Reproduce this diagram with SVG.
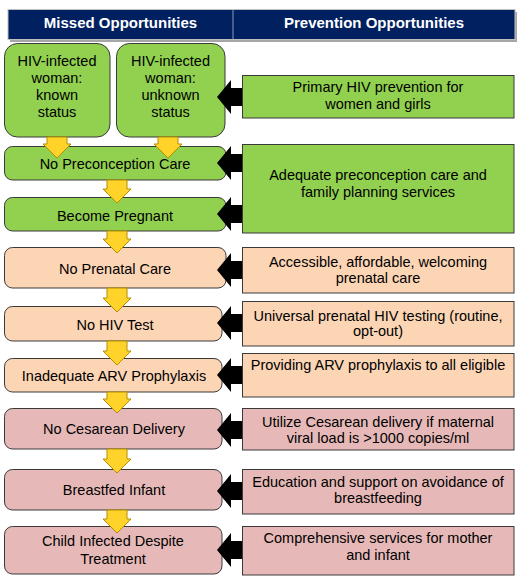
<svg xmlns="http://www.w3.org/2000/svg" width="520" height="585" viewBox="0 0 520 585">
<style>
text{font-family:"Liberation Sans",Arial,sans-serif;font-size:14.5px;fill:#000;text-anchor:middle}
.hd{font-weight:bold;font-size:15px;fill:#fff}
.g{fill:#92D050;stroke:#3a3a3a;stroke-width:1}
.o{fill:#FCD5B5;stroke:#3a3a3a;stroke-width:1}
.p{fill:#E6B9B8;stroke:#3a3a3a;stroke-width:1}
.ya{fill:#FFD32A;stroke:#B38F00;stroke-width:1}
.ba{fill:#000}
</style>
<rect width="520" height="585" fill="#fff"/>
<g id="header">
<rect x="10" y="12" width="507" height="30" fill="#A6A6A6"/>
<rect x="8" y="9.5" width="507" height="30" fill="#002060" stroke="#BFBFBF" stroke-width="1"/>
<line x1="233" y1="10" x2="233" y2="39" stroke="#8C9AB8" stroke-width="1"/>
<text class="hd" x="120.5" y="27.5">Missed Opportunities</text>
<text class="hd" x="374" y="27.5">Prevention Opportunities</text>
</g>
<g id="n-known"><rect class="g" x="4.5" y="43.5" width="105.5" height="93.5" rx="13"/>
<text x="57" y="66">HIV-infected</text><text x="57" y="83">woman:</text><text x="57" y="100">known</text><text x="57" y="117">status</text></g>
<g id="n-unknown"><rect class="g" x="116.5" y="43.5" width="108.5" height="93.5" rx="13"/>
<text x="170.5" y="66">HIV-infected</text><text x="170.5" y="83">woman:</text><text x="170.5" y="100">unknown</text><text x="170.5" y="117">status</text></g>
<g id="n-precon"><rect class="g" x="4.5" y="146.5" width="221.5" height="33.5" rx="8"/><text x="115" y="169">No Preconception Care</text></g>
<g id="n-pregnant"><rect class="g" x="4.5" y="197.5" width="221.5" height="33.5" rx="8"/><text x="115" y="221">Become Pregnant</text></g>
<g id="n-prenatal"><rect class="o" x="4.5" y="247.5" width="221.5" height="40.5" rx="8"/><text x="115" y="274">No Prenatal Care</text></g>
<g id="n-hivtest"><rect class="o" x="4.5" y="306.5" width="217.5" height="34.5" rx="8"/><text x="115" y="330">No HIV Test</text></g>
<g id="n-arv"><rect class="o" x="4.5" y="358.5" width="217.5" height="33.5" rx="8"/><text x="114" y="381">Inadequate ARV Prophylaxis</text></g>
<g id="n-cesarean"><rect class="p" x="4.5" y="408.5" width="217.5" height="40.5" rx="8"/><text x="114" y="434">No Cesarean Delivery</text></g>
<g id="n-breastfed"><rect class="p" x="4.5" y="469.5" width="217.5" height="40.5" rx="8"/><text x="114" y="495">Breastfed Infant</text></g>
<g id="n-child"><rect class="p" x="4.5" y="526.5" width="217.5" height="47.5" rx="8"/><text x="113" y="546">Child Infected Despite</text><text x="113" y="564">Treatment</text></g>
<g id="r-primary"><rect class="g" x="242.5" y="75.5" width="271.5" height="42.5"/><text x="378" y="92">Primary HIV prevention for</text><text x="378" y="109">women and girls</text></g>
<g id="r-precon"><rect class="g" x="242.5" y="144.5" width="271.5" height="88.5"/><text x="378" y="180">Adequate preconception care and</text><text x="378" y="197">family planning services</text></g>
<g id="r-prenatal"><rect class="o" x="242.5" y="247.5" width="271.5" height="45.5"/><text x="378" y="267">Accessible, affordable, welcoming</text><text x="378" y="283">prenatal care</text></g>
<g id="r-testing"><rect class="o" x="242.5" y="301.5" width="271.5" height="44.5"/><text x="378" y="321">Universal prenatal HIV testing (routine,</text><text x="378" y="336">opt-out)</text></g>
<g id="r-arv"><rect class="o" x="242.5" y="353.5" width="271.5" height="43.5"/><text x="378" y="370">Providing ARV prophylaxis to all eligible</text></g>
<g id="r-cesarean"><rect class="p" x="242.5" y="408.5" width="271.5" height="41.5"/><text x="378" y="427">Utilize Cesarean delivery if maternal</text><text x="378" y="443">viral load is &gt;1000 copies/ml</text></g>
<g id="r-breast"><rect class="p" x="242.5" y="469.5" width="271.5" height="44.5"/><text x="378" y="487">Education and support on avoidance of</text><text x="378" y="503">breastfeeding</text></g>
<g id="r-comp"><rect class="p" x="242.5" y="526.5" width="271.5" height="48.5"/><text x="378" y="543">Comprehensive services for mother</text><text x="378" y="560">and infant</text></g>
<g id="connectors">
<path class="ya" d="M47 137H67V144H71L57 158L43 144H47Z"/>
<path class="ya" d="M158 137H178V144H182L168 158L154 144H158Z"/>
<path class="ya" d="M107 180H127V189H131L117 203L103 189H107Z"/>
<path class="ya" d="M107 231H127V239H131L117 253L103 239H107Z"/>
<path class="ya" d="M107 288H127V298H131L117 312L103 298H107Z"/>
<path class="ya" d="M107 341H127V351H131L117 365L103 351H107Z"/>
<path class="ya" d="M107 392H127V399H131L117 413L103 399H107Z"/>
<path class="ya" d="M107 449H127V459H131L117 473L103 459H107Z"/>
<path class="ya" d="M107 510H127V519H131L117 533L103 519H107Z"/>
<path class="ba" d="M242 88H231V80L217 97L231 114V106H242Z"/>
<path class="ba" d="M242 154H231V146L217 163L231 180V172H242Z"/>
<path class="ba" d="M242 205H231V197L217 214L231 231V223H242Z"/>
<path class="ba" d="M242 261H231V253L217 270L231 287V279H242Z"/>
<path class="ba" d="M242 314H231V306L217 323L231 340V332H242Z"/>
<path class="ba" d="M242 366H231V358L217 375L231 392V384H242Z"/>
<path class="ba" d="M242 421H231V413L217 430L231 447V439H242Z"/>
<path class="ba" d="M242 482H231V474L217 491L231 508V500H242Z"/>
<path class="ba" d="M242 541H231V533L217 550L231 567V559H242Z"/>
</g>
</svg>
